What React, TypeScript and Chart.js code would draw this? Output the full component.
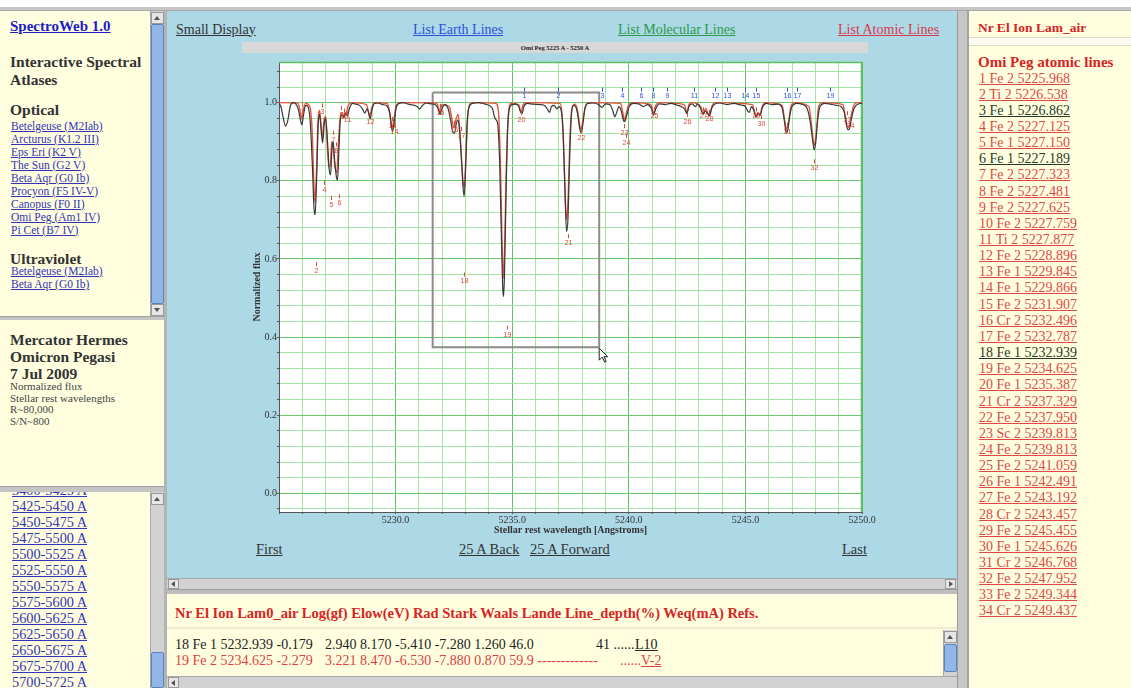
import React, { useEffect, useRef } from "react";
import { Chart, registerables } from "chart.js";

Chart.register(...registerables);

const SERIF = "'Liberation Serif', 'Times New Roman', serif";
const YEL = "#ffffe0";
const LBLUE = "#add8e6";

// ---------------- spectrum data ----------------
const obsLam = [
  5225.00, 5225.08, 5225.18, 5225.28, 5225.38, 5225.48, 5225.60, 5225.72, 5225.84, 5225.92,
  5225.98, 5226.05, 5226.14, 5226.24, 5226.34, 5226.43, 5226.50, 5226.55, 5226.61, 5226.68,
  5226.74, 5226.80, 5226.87, 5226.94, 5227.00, 5227.08, 5227.15, 5227.21, 5227.27, 5227.32,
  5227.39, 5227.46, 5227.51, 5227.57, 5227.63, 5227.70, 5227.78, 5227.86, 5227.93, 5228.02,
  5228.15, 5228.30, 5228.45, 5228.58, 5228.68, 5228.78, 5228.85, 5228.91, 5228.98, 5229.08,
  5229.25, 5229.45, 5229.62, 5229.74, 5229.82, 5229.87, 5229.93, 5230.02, 5230.15, 5230.35,
  5230.55, 5230.75, 5230.92, 5231.02, 5231.12, 5231.30, 5231.50, 5231.70, 5231.82, 5231.91,
  5232.00, 5232.12, 5232.25, 5232.36, 5232.46, 5232.53, 5232.60, 5232.67, 5232.74, 5232.82,
  5232.89, 5232.94, 5233.00, 5233.07, 5233.16, 5233.30, 5233.55, 5233.80, 5234.00, 5234.15,
  5234.25, 5234.31, 5234.38, 5234.46, 5234.54, 5234.60, 5234.63, 5234.67, 5234.73, 5234.80,
  5234.88, 5235.00, 5235.15, 5235.28, 5235.36, 5235.42, 5235.50, 5235.65, 5235.90, 5236.20,
  5236.40, 5236.52, 5236.60, 5236.68, 5236.80, 5236.92, 5237.00, 5237.10, 5237.20, 5237.27,
  5237.33, 5237.39, 5237.45, 5237.53, 5237.62, 5237.72, 5237.82, 5237.90, 5237.96, 5238.03,
  5238.12, 5238.25, 5238.45, 5238.70, 5238.85, 5239.00, 5239.18, 5239.30, 5239.40, 5239.48,
  5239.58, 5239.68, 5239.77, 5239.83, 5239.90, 5240.02, 5240.20, 5240.45, 5240.62, 5240.80,
  5240.97, 5241.06, 5241.15, 5241.30, 5241.55, 5241.80, 5242.05, 5242.25, 5242.40, 5242.49,
  5242.58, 5242.72, 5242.85, 5242.95, 5243.08, 5243.18, 5243.28, 5243.38, 5243.46, 5243.55,
  5243.68, 5243.90, 5244.20, 5244.50, 5244.80, 5245.00, 5245.10, 5245.17, 5245.26, 5245.36,
  5245.46, 5245.55, 5245.63, 5245.73, 5245.90, 5246.15, 5246.40, 5246.58, 5246.68, 5246.75,
  5246.82, 5246.90, 5247.00, 5247.20, 5247.45, 5247.65, 5247.78, 5247.88, 5247.95, 5248.02,
  5248.10, 5248.20, 5248.40, 5248.65, 5248.90, 5249.10, 5249.24, 5249.32, 5249.40, 5249.47,
  5249.55, 5249.66, 5249.82, 5250.00,
];
const obsFlux = [
  0.998, 0.990, 0.962, 0.940, 0.955, 0.990, 1.000, 0.997, 0.980, 0.955,
  0.943, 0.968, 0.993, 0.990, 0.950, 0.840, 0.730, 0.713, 0.800, 0.940,
  0.970, 0.935, 0.897, 0.945, 0.960, 0.900, 0.830, 0.815, 0.880, 0.900,
  0.850, 0.810, 0.802, 0.880, 0.955, 0.968, 0.962, 0.972, 0.966, 0.985,
  0.998, 0.996, 0.993, 0.984, 0.973, 0.985, 0.972, 0.958, 0.980, 0.997,
  0.999, 0.995, 0.992, 0.975, 0.940, 0.926, 0.945, 0.985, 0.998, 1.000,
  0.996, 0.994, 0.990, 0.984, 0.990, 0.999, 0.997, 0.995, 0.985, 0.970,
  0.987, 0.995, 0.985, 0.955, 0.924, 0.922, 0.945, 0.955, 0.930, 0.860,
  0.785, 0.760, 0.830, 0.950, 0.990, 0.998, 1.000, 0.997, 0.993, 0.985,
  0.962, 0.956, 0.945, 0.850, 0.650, 0.520, 0.504, 0.560, 0.750, 0.930,
  0.985, 0.995, 0.996, 0.990, 0.976, 0.972, 0.990, 0.998, 0.996, 0.995,
  0.992, 0.982, 0.975, 0.990, 0.993, 0.984, 0.990, 0.980, 0.900, 0.760,
  0.670, 0.700, 0.830, 0.960, 0.993, 0.990, 0.965, 0.932, 0.922, 0.945,
  0.985, 0.998, 0.999, 0.995, 0.988, 0.997, 0.995, 0.982, 0.964, 0.975,
  0.990, 0.978, 0.955, 0.951, 0.965, 0.990, 0.998, 0.996, 0.990, 0.995,
  0.985, 0.968, 0.983, 0.997, 0.995, 0.998, 0.994, 0.990, 0.983, 0.972,
  0.990, 0.997, 0.990, 0.996, 0.985, 0.970, 0.978, 0.972, 0.966, 0.985,
  0.996, 0.999, 0.995, 0.998, 0.994, 0.990, 0.978, 0.975, 0.990, 0.980,
  0.963, 0.972, 0.968, 0.988, 0.998, 0.995, 0.996, 0.985, 0.950, 0.922,
  0.930, 0.965, 0.990, 0.998, 0.995, 0.985, 0.950, 0.905, 0.879, 0.900,
  0.955, 0.990, 0.998, 0.996, 0.993, 0.990, 0.975, 0.948, 0.930, 0.935,
  0.960, 0.985, 0.996, 0.998,
];
const synLam = [
  5225.00, 5225.80, 5225.90, 5225.97, 5226.04, 5226.15, 5226.32, 5226.42, 5226.49, 5226.54,
  5226.60, 5226.67, 5226.74, 5226.80, 5226.86, 5226.93, 5227.00, 5227.07, 5227.14, 5227.20,
  5227.26, 5227.32, 5227.40, 5227.48, 5227.55, 5227.62, 5227.69, 5227.76, 5227.83, 5227.88,
  5227.95, 5228.10, 5228.75, 5228.84, 5228.90, 5228.97, 5229.10, 5229.65, 5229.76, 5229.85,
  5229.92, 5230.02, 5230.20, 5231.75, 5231.85, 5231.91, 5231.98, 5232.30, 5232.42, 5232.50,
  5232.58, 5232.68, 5232.76, 5232.84, 5232.91, 5232.95, 5233.02, 5233.10, 5233.22, 5233.50,
  5234.30, 5234.42, 5234.50, 5234.57, 5234.62, 5234.68, 5234.75, 5234.84, 5234.95, 5235.28,
  5235.38, 5235.47, 5235.60, 5237.05, 5237.15, 5237.24, 5237.30, 5237.34, 5237.40, 5237.47,
  5237.56, 5237.70, 5237.82, 5237.90, 5237.96, 5238.03, 5238.14, 5238.30, 5239.65, 5239.74,
  5239.81, 5239.88, 5240.00, 5240.20, 5240.95, 5241.06, 5241.15, 5241.30, 5242.38, 5242.49,
  5242.58, 5242.70, 5243.08, 5243.19, 5243.30, 5243.40, 5243.47, 5243.56, 5243.70, 5245.30,
  5245.40, 5245.46, 5245.54, 5245.62, 5245.72, 5245.85, 5246.58, 5246.68, 5246.77, 5246.85,
  5246.95, 5247.10, 5247.72, 5247.84, 5247.95, 5248.04, 5248.14, 5248.30, 5249.18, 5249.28,
  5249.35, 5249.44, 5249.52, 5249.63, 5249.80, 5250.00,
];
const synFlux = [
  1.000, 0.999, 0.980, 0.958, 0.982, 0.998, 0.990, 0.930, 0.800, 0.745,
  0.810, 0.950, 0.980, 0.945, 0.910, 0.955, 0.965, 0.890, 0.835, 0.840,
  0.900, 0.885, 0.835, 0.820, 0.900, 0.960, 0.975, 0.965, 0.975, 0.970,
  0.990, 1.000, 0.995, 0.975, 0.962, 0.985, 1.000, 0.997, 0.970, 0.935,
  0.955, 0.990, 1.000, 0.999, 0.985, 0.975, 0.995, 0.990, 0.955, 0.935,
  0.955, 0.970, 0.925, 0.840, 0.790, 0.785, 0.870, 0.970, 0.998, 1.000,
  0.998, 0.970, 0.830, 0.630, 0.550, 0.640, 0.840, 0.970, 0.998, 0.995,
  0.975, 0.995, 1.000, 0.998, 0.960, 0.820, 0.720, 0.700, 0.760, 0.900,
  0.985, 0.996, 0.975, 0.940, 0.932, 0.955, 0.990, 1.000, 0.998, 0.975,
  0.955, 0.970, 0.995, 1.000, 0.995, 0.972, 0.992, 1.000, 0.995, 0.975,
  0.995, 1.000, 0.990, 0.972, 0.985, 0.972, 0.968, 0.990, 1.000, 0.995,
  0.975, 0.965, 0.975, 0.968, 0.990, 1.000, 0.993, 0.955, 0.932, 0.950,
  0.990, 1.000, 0.990, 0.940, 0.890, 0.925, 0.990, 1.000, 0.995, 0.965,
  0.940, 0.938, 0.962, 0.990, 1.000, 1.000,
];

// zoom selection box drawn on the plot
const selLam = [5231.59, 5238.73];
const selFlux = [0.374, 1.026];

// axis ticks / grid
const xGridValues = [
  5225, 5226, 5227, 5228, 5229, 5230, 5231, 5232, 5233, 5234, 5235, 5236, 5237,
  5238, 5239, 5240, 5241, 5242, 5243, 5244, 5245, 5246, 5247, 5248, 5249, 5250,
];
const xLabelValues = [5230, 5235, 5240, 5245, 5250];
const yGridValues = [
  -0.04, 0.0, 0.04, 0.08, 0.12, 0.16, 0.2, 0.24, 0.28, 0.32, 0.36, 0.4, 0.44, 0.48, 0.52,
  0.56, 0.6, 0.64, 0.68, 0.72, 0.76, 0.8, 0.84, 0.88, 0.92, 0.96, 1.0, 1.04, 1.08,
];
const yLabelValues = [0.0, 0.2, 0.4, 0.6, 0.8, 1.0];

// atomic line list
const atomicNr = [
  1, 2, 3, 4, 5, 6, 7, 8, 9, 10, 11, 12, 13, 14, 15, 16, 17,
  18, 19, 20, 21, 22, 23, 24, 25, 26, 27, 28, 29, 30, 31, 32, 33, 34,
];
const atomicEl = [
  "Fe", "Ti", "Fe", "Fe", "Fe", "Fe", "Fe", "Fe", "Fe", "Fe", "Ti", "Fe", "Fe", "Fe", "Fe", "Cr", "Fe",
  "Fe", "Fe", "Fe", "Cr", "Fe", "Sc", "Fe", "Fe", "Fe", "Fe", "Cr", "Fe", "Fe", "Cr", "Fe", "Fe", "Cr",
];
const atomicIon = [
  2, 2, 1, 2, 1, 1, 2, 2, 2, 2, 2, 2, 1, 1, 2, 2, 2,
  1, 2, 1, 2, 2, 2, 2, 2, 1, 2, 2, 2, 1, 2, 2, 2, 2,
];
const atomicLam = [
  5225.968, 5226.538, 5226.862, 5227.125, 5227.150, 5227.189, 5227.323, 5227.481, 5227.625,
  5227.759, 5227.877, 5228.896, 5229.845, 5229.866, 5231.907, 5232.496, 5232.787, 5232.939,
  5234.625, 5235.387, 5237.329, 5237.950, 5239.813, 5239.813, 5241.059, 5242.491, 5243.192,
  5243.457, 5245.455, 5245.626, 5246.768, 5247.952, 5249.344, 5249.437,
];
const atomicVisited = [3, 6, 18];
const atomicLabelLam = [
  5225.99, 5226.60, 5226.86, 5226.95, 5227.25, 5227.57, 5227.32, 5227.45, 5227.64,
  5227.78, 5227.92, 5228.90, 5229.83, 5229.92, 5231.91, 5232.50, 5232.79, 5232.94,
  5234.77, 5235.39, 5237.38, 5237.95, 5239.81, 5239.90, 5241.06, 5242.49, 5243.19,
  5243.46, 5245.46, 5245.66, 5246.77, 5247.95, 5249.34, 5249.48,
];
const atomicLabelFlux = [
  0.977, 0.568, 0.975, 0.777, 0.738, 0.742, 0.905, 0.875, 0.968,
  0.962, 0.955, 0.951, 0.94, 0.925, 0.974, 0.93, 0.915, 0.542,
  0.406, 0.956, 0.64, 0.909, 0.922, 0.897, 0.965, 0.951, 0.965,
  0.958, 0.965, 0.945, 0.925, 0.832, 0.955, 0.94,
];

// earth (telluric) line markers along the top
const earthNr = [1, 2, 3, 4, 6, 8, 9, 11, 12, 13, 14, 15, 16, 17, 19];
const earthLam = [
  5235.50, 5236.96, 5238.84, 5239.70, 5240.52, 5241.03, 5241.63, 5242.79,
  5243.69, 5244.20, 5244.97, 5245.45, 5246.77, 5247.20, 5248.62,
];
const earthLabelFlux = 1.018;

// side panels
const opticalStars = [
  "Betelgeuse (M2Iab)", "Arcturus (K1.2 III)", "Eps Eri (K2 V)", "The Sun (G2 V)",
  "Beta Aqr (G0 Ib)", "Procyon (F5 IV-V)", "Canopus (F0 II)", "Omi Peg (Am1 IV)", "Pi Cet (B7 IV)",
];
const uvStars = ["Betelgeuse (M2Iab)", "Beta Aqr (G0 Ib)"];
const rangeLabels = [
  "5400-5425 A", "5425-5450 A", "5450-5475 A", "5475-5500 A", "5500-5525 A", "5525-5550 A",
  "5550-5575 A", "5575-5600 A", "5600-5625 A", "5625-5650 A", "5650-5675 A", "5675-5700 A",
  "5700-5725 A",
];
const tableHeader =
  "Nr El Ion Lam0_air Log(gf) Elow(eV) Rad Stark Waals Lande Line_depth(%) Weq(mA) Refs.";
const row18 = ["18 Fe 1 5232.939 -0.179", "2.940 8.170 -5.410 -7.280 1.260 46.0", "41 ......", "L10"];
const row19 = ["19 Fe 2 5234.625 -2.279", "3.221 8.470 -6.530 -7.880 0.870 59.9 -------------", "......", "V-2"];

// ---------------- helpers ----------------
type TP = {
  x: number; y: number; s?: number; b?: boolean; c?: string; u?: boolean; children: React.ReactNode;
};
function Txt({ x, y, s = 14, b = false, c = "#222", u = false, children }: TP) {
  const lh = Math.round(s * 1.2);
  return (
    <div
      style={{
        position: "absolute", left: x, top: y - lh / 2, fontSize: s, lineHeight: lh + "px",
        fontWeight: b ? 700 : 400, color: c, textDecoration: u ? "underline" : "none",
        whiteSpace: "pre", fontFamily: SERIF,
      }}
    >
      {children}
    </div>
  );
}
function Box({ x, y, w, h, bg, st }: { x: number; y: number; w: number; h: number; bg: string; st?: any }) {
  return (
    <div style={{ position: "absolute", left: x, top: y, width: w, height: h, background: bg, boxSizing: "border-box", ...(st || {}) }} />
  );
}
function Arrow({ x, y, dir }: { x: number; y: number; dir: "up" | "down" | "left" | "right" }) {
  const st: any = { position: "absolute", left: x, top: y, width: 0, height: 0 };
  if (dir === "up") Object.assign(st, { borderLeft: "3px solid transparent", borderRight: "3px solid transparent", borderBottom: "4px solid #555" });
  if (dir === "down") Object.assign(st, { borderLeft: "3px solid transparent", borderRight: "3px solid transparent", borderTop: "4px solid #555" });
  if (dir === "left") Object.assign(st, { borderTop: "3px solid transparent", borderBottom: "3px solid transparent", borderRight: "4px solid #555" });
  if (dir === "right") Object.assign(st, { borderTop: "3px solid transparent", borderBottom: "3px solid transparent", borderLeft: "4px solid #555" });
  return <div style={st} />;
}
function VScroll({ x, y, h, t0, t1 }: { x: number; y: number; h: number; t0: number; t1: number }) {
  return (
    <>
      <Box x={x} y={y} w={14} h={h} bg="#d2d2d2" st={{ borderLeft: "1px solid #a8a8a8" }} />
      <Box x={x + 1} y={y + 1} w={13} h={12} bg="#e6e6e6" st={{ border: "1px solid #9a9a9a" }} />
      <Arrow x={x + 4} y={y + 5} dir="up" />
      <Box x={x + 1} y={t0} w={13} h={t1 - t0} bg="#92b6e6" st={{ border: "1px solid #5a82c2", borderRadius: 2 }} />
    </>
  );
}

// ---------------- chart ----------------
function SpectrumChart() {
  const ref = useRef<HTMLCanvasElement | null>(null);
  useEffect(() => {
    if (!ref.current) return;
    const obsPts = obsLam.map((x, i) => ({ x, y: obsFlux[i] }));
    const synPts = synLam.map((x, i) => ({ x, y: synFlux[i] }));
    const boxPts = [
      { x: selLam[0], y: selFlux[1] }, { x: selLam[1], y: selFlux[1] },
      { x: selLam[1], y: selFlux[0] }, { x: selLam[0], y: selFlux[0] },
      { x: selLam[0], y: selFlux[1] },
    ];
    const isOn = (arr: number[], v: number) => arr.some((a) => Math.abs(a - v) < 1e-6);

    const decor = {
      id: "decor",
      beforeDraw(chart: any) {
        const { ctx, chartArea: a } = chart;
        ctx.save();
        ctx.fillStyle = "#ffffff";
        ctx.fillRect(a.left, a.top, a.right - a.left, a.bottom - a.top);
        ctx.restore();
      },
      beforeDatasetsDraw(chart: any) {
        const { ctx, chartArea: a } = chart;
        ctx.save();
        ctx.strokeStyle = "#5cbf5c";
        ctx.lineWidth = 1.5;
        ctx.beginPath();
        ctx.moveTo(a.left, a.top + 0.5);
        ctx.lineTo(a.right - 0.5, a.top + 0.5);
        ctx.lineTo(a.right - 0.5, a.bottom);
        ctx.stroke();
        ctx.restore();
      },
      afterDatasetsDraw(chart: any) {
        const { ctx } = chart;
        const xs = chart.scales.x;
        const ys = chart.scales.y;
        ctx.save();
        ctx.font = "7px 'Liberation Sans', sans-serif";
        ctx.textAlign = "center";
        ctx.textBaseline = "middle";
        ctx.lineWidth = 1;
        // atomic line labels
        ctx.fillStyle = "#e0473a";
        ctx.strokeStyle = "#e0473a";
        atomicNr.forEach((n, i) => {
          const px = Math.round(xs.getPixelForValue(atomicLabelLam[i])) + 0.5;
          const py = ys.getPixelForValue(atomicLabelFlux[i]);
          ctx.beginPath();
          ctx.moveTo(px, py - 9);
          ctx.lineTo(px, py - 5);
          ctx.stroke();
          ctx.fillText(String(n), px, py);
        });
        // earth line labels
        ctx.fillStyle = "#3050d8";
        ctx.strokeStyle = "#3050d8";
        earthNr.forEach((n, i) => {
          const px = Math.round(xs.getPixelForValue(earthLam[i])) + 0.5;
          const py = ys.getPixelForValue(earthLabelFlux);
          ctx.beginPath();
          ctx.moveTo(px, py - 8);
          ctx.lineTo(px, py - 4);
          ctx.stroke();
          ctx.fillText(String(n), px, py);
        });
        // mouse pointer at the corner of the selection box
        const cx = xs.getPixelForValue(selLam[1]);
        const cy = ys.getPixelForValue(selFlux[0]) + 1;
        ctx.beginPath();
        ctx.moveTo(cx, cy);
        ctx.lineTo(cx, cy + 12);
        ctx.lineTo(cx + 3, cy + 9);
        ctx.lineTo(cx + 5.5, cy + 14);
        ctx.lineTo(cx + 7, cy + 13.2);
        ctx.lineTo(cx + 4.8, cy + 8.5);
        ctx.lineTo(cx + 8.5, cy + 8.5);
        ctx.closePath();
        ctx.fillStyle = "#ffffff";
        ctx.fill();
        ctx.strokeStyle = "#222";
        ctx.stroke();
        ctx.restore();
      },
    };

    const chart = new Chart(ref.current, {
      type: "scatter",
      data: {
        datasets: [
          {
            label: "selection", data: boxPts, showLine: true, borderColor: "#8c8c8c",
            borderWidth: 2, pointRadius: 0, tension: 0, order: 3,
          },
          {
            label: "synthetic", data: synPts, showLine: true, borderColor: "#e8553f",
            borderWidth: 1.4, pointRadius: 0, cubicInterpolationMode: "monotone", order: 2,
          },
          {
            label: "observed", data: obsPts, showLine: true, borderColor: "#383838",
            borderWidth: 1.2, pointRadius: 0, cubicInterpolationMode: "monotone", order: 1,
          },
        ],
      } as any,
      options: {
        responsive: false,
        animation: false,
        events: [],
        layout: { padding: { left: 0, right: 34, top: 10, bottom: 0 } },
        plugins: { legend: { display: false }, tooltip: { enabled: false } },
        scales: {
          x: {
            type: "linear", min: 5225, max: 5250,
            afterBuildTicks: (s: any) => { s.ticks = xGridValues.map((v) => ({ value: v })); },
            afterFit: (s: any) => { s.height = 25; },
            grid: {
              color: (c: any) => (c.tick && isOn(xLabelValues, c.tick.value) ? "#5ec45e" : "#a4e4a4"),
              lineWidth: 1, tickLength: 2, tickColor: "#555",
            },
            border: { color: "#555", width: 1 },
            ticks: {
              autoSkip: false, maxRotation: 0, minRotation: 0, padding: 0, color: "#333",
              font: { family: "Liberation Serif", size: 10 },
              callback: (v: any) => (isOn(xLabelValues, Number(v)) ? Number(v).toFixed(1) : ""),
            },
            title: {
              display: true, text: "Stellar rest wavelength [Angstroms]", color: "#333",
              font: { family: "Liberation Serif", size: 10, weight: "bold" }, padding: { top: 0, bottom: 1 },
            },
          },
          y: {
            type: "linear", min: -0.048, max: 1.104,
            afterBuildTicks: (s: any) => { s.ticks = yGridValues.map((v) => ({ value: v })); },
            afterFit: (s: any) => { s.width = 33; },
            grid: {
              color: (c: any) => (c.tick && isOn(yLabelValues, c.tick.value) ? "#6cc86c" : "#a4e4a4"),
              lineWidth: 1, tickLength: 2, tickColor: "#555",
            },
            border: { color: "#555", width: 1 },
            ticks: {
              autoSkip: false, padding: 0, color: "#333",
              font: { family: "Liberation Serif", size: 10 },
              callback: (v: any) => (isOn(yLabelValues, Number(v)) ? Number(v).toFixed(1) : ""),
            },
            title: {
              display: true, text: "Normalized flux", color: "#333",
              font: { family: "Liberation Serif", size: 10, weight: "bold" }, padding: { top: 5, bottom: 0 },
            },
          },
        },
      } as any,
      plugins: [decor],
    });
    return () => chart.destroy();
  }, []);
  return (
    <canvas
      ref={ref}
      width={650}
      height={485}
      style={{ position: "absolute", left: 246, top: 52, width: 650, height: 485 }}
    />
  );
}

// ---------------- page ----------------
export default function App() {
  const listTop = 78;
  const listStep = 16.15;
  const rangeTop = 492;
  return (
    <div
      style={{
        position: "absolute", left: 0, top: 0, width: 1131, height: 688, overflow: "hidden",
        background: "#ffffff", fontFamily: SERIF,
      }}
    >
      {/* top strip */}
      <Box x={0} y={7} w={1131} h={4} bg="#c6c6c6" st={{ borderBottom: "1px solid #a8a8a8" }} />

      {/* ---------- left column ---------- */}
      <Box x={0} y={11} w={150} h={305} bg={YEL} />
      <VScroll x={150} y={11} h={305} t0={24} t1={304} />
      <Box x={151} y={304} w={13} h={12} bg="#e6e6e6" st={{ border: "1px solid #9a9a9a" }} />
      <Arrow x={154} y={308} dir="down" />
      <Txt x={10} y={26} s={15} b c="#1c1cc8" u>SpectroWeb 1.0</Txt>
      <Txt x={10} y={61} s={15.5} b c="#333">Interactive Spectral</Txt>
      <Txt x={10} y={79} s={15.5} b c="#333">Atlases</Txt>
      <Txt x={10} y={109} s={15.5} b c="#333">Optical</Txt>
      {opticalStars.map((s, i) => (
        <Txt key={"o" + i} x={11} y={125.7 + 13 * i} s={11.5} c="#3434b8" u>{s}</Txt>
      ))}
      <Txt x={10} y={258} s={15.5} b c="#333">Ultraviolet</Txt>
      {uvStars.map((s, i) => (
        <Txt key={"u" + i} x={11} y={271 + 13 * i} s={11.5} c="#3434b8" u>{s}</Txt>
      ))}

      <Box x={0} y={316} w={165} h={4} bg="#c4c4c4" st={{ borderTop: "1px solid #a0a0a0" }} />
      <Box x={0} y={320} w={164} h={166} bg={YEL} />
      <Txt x={10} y={339} s={15.5} b c="#333">Mercator Hermes</Txt>
      <Txt x={10} y={356} s={15.5} b c="#333">Omicron Pegasi</Txt>
      <Txt x={10} y={373} s={15.5} b c="#333">7 Jul 2009</Txt>
      <Txt x={10} y={386.5} s={11} c="#444">Normalized flux</Txt>
      <Txt x={10} y={398} s={11} c="#444">Stellar rest wavelengths</Txt>
      <Txt x={10} y={409.5} s={11} c="#444">R~80,000</Txt>
      <Txt x={10} y={421} s={11} c="#444">S/N~800</Txt>

      <Box x={0} y={486} w={165} h={rangeTop - 486} bg="#c4c4c4" st={{ borderTop: "1px solid #a0a0a0" }} />
      <div style={{ position: "absolute", left: 0, top: rangeTop, width: 150, height: 688 - rangeTop, background: YEL, overflow: "hidden" }}>
        {rangeLabels.map((r, i) => (
          <Txt key={"r" + i} x={12} y={490 - rangeTop + 16.05 * i} s={14.3} c="#3434b8" u>{r}</Txt>
        ))}
      </div>
      <VScroll x={150} y={rangeTop} h={688 - rangeTop} t0={652} t1={688} />
      <Box x={164} y={11} w={3} h={677} bg="#b4b4b4" />

      {/* ---------- middle column ---------- */}
      <Box x={167} y={11} w={790} h={567} bg={LBLUE} />
      <Txt x={176} y={29} s={14} c="#333" u>Small Display</Txt>
      <Txt x={413} y={29} s={14} c="#2a4fd8" u>List Earth Lines</Txt>
      <Txt x={618} y={29} s={14} c="#2a9a4a" u>List Molecular Lines</Txt>
      <Txt x={838} y={29} s={14} c="#d83a4a" u>List Atomic Lines</Txt>
      <Box x={242} y={42} w={626} h={11} bg="#d8d8d8" />
      <div
        style={{
          position: "absolute", left: 242, top: 42, width: 626, height: 11, lineHeight: "11px",
          textAlign: "center", fontSize: 6.5, fontWeight: 700, color: "#222", fontFamily: SERIF,
        }}
      >
        Omi Peg 5225 A - 5250 A
      </div>
      <SpectrumChart />
      <Txt x={256} y={549} s={14.5} c="#333" u>First</Txt>
      <Txt x={459} y={549} s={14.5} c="#333" u>25 A Back</Txt>
      <Txt x={530} y={549} s={14.5} c="#333" u>25 A Forward</Txt>
      <Txt x={842} y={549} s={14.5} c="#333" u>Last</Txt>

      {/* horizontal scrollbar of the chart frame */}
      <Box x={167} y={578} w={790} h={11} bg="#d2d2d2" st={{ borderTop: "1px solid #a8a8a8" }} />
      <Box x={168} y={579} w={11} h={10} bg="#e6e6e6" st={{ border: "1px solid #9a9a9a" }} />
      <Arrow x={171} y={581} dir="left" />
      <Box x={945} y={579} w={11} h={10} bg="#e6e6e6" st={{ border: "1px solid #9a9a9a" }} />
      <Arrow x={949} y={581} dir="right" />
      <Box x={167} y={589} w={790} h={5} bg="#bdbdbd" st={{ borderTop: "1px solid #9c9c9c" }} />

      {/* line data frame */}
      <Box x={167} y={594} w={790} h={94} bg={YEL} />
      <Box x={167} y={627} w={790} h={2} bg="#ecebd2" />
      <Txt x={175} y={613} s={14.5} b c="#d82424">{tableHeader}</Txt>
      <Txt x={175} y={644} s={14} c="#222">{row18[0]}</Txt>
      <Txt x={325} y={644} s={14} c="#222">{row18[1]}</Txt>
      <Txt x={596} y={644} s={14} c="#222">{row18[2]}</Txt>
      <Txt x={635} y={644} s={14} c="#222" u>{row18[3]}</Txt>
      <Txt x={175} y={660} s={14} c="#e04040">{row19[0]}</Txt>
      <Txt x={325} y={660} s={14} c="#e04040">{row19[1]}</Txt>
      <Txt x={620} y={660} s={14} c="#e04040">{row19[2]}</Txt>
      <Txt x={641} y={660} s={14} c="#e04040" u>{row19[3]}</Txt>
      <VScroll x={943} y={630} h={46} t0={644} t1={672} />
      <Box x={167} y={676} w={790} h={12} bg="#d2d2d2" st={{ borderTop: "1px solid #a8a8a8" }} />
      <Box x={168} y={677} w={11} h={11} bg="#e6e6e6" st={{ border: "1px solid #9a9a9a" }} />
      <Arrow x={171} y={680} dir="left" />

      {/* divider */}
      <Box x={957} y={11} w={12} h={677} bg="#c6c6c6" st={{ borderLeft: "1px solid #9a9a9a", borderRight: "2px solid #a4a4a4" }} />

      {/* ---------- right column ---------- */}
      <Box x={969} y={11} w={162} h={677} bg={YEL} />
      <Txt x={978} y={28} s={13.5} b c="#d82424">Nr El Ion Lam_air</Txt>
      <Box x={969} y={37} w={162} h={9} bg="#fbfbee" st={{ borderTop: "1px solid #dcdcc8", borderBottom: "1px solid #dcdcc8" }} />
      <Txt x={978} y={62} s={15} b c="#d82424">Omi Peg atomic lines</Txt>
      {atomicNr.map((n, i) => {
        const visited = atomicVisited.includes(n);
        return (
          <Txt key={"a" + n} x={979} y={listTop + listStep * i} s={14} c={visited ? "#2a3a2a" : "#e04848"} u>
            {`${n} ${atomicEl[i]} ${atomicIon[i]} ${atomicLam[i].toFixed(3)}`}
          </Txt>
        );
      })}
    </div>
  );
}
